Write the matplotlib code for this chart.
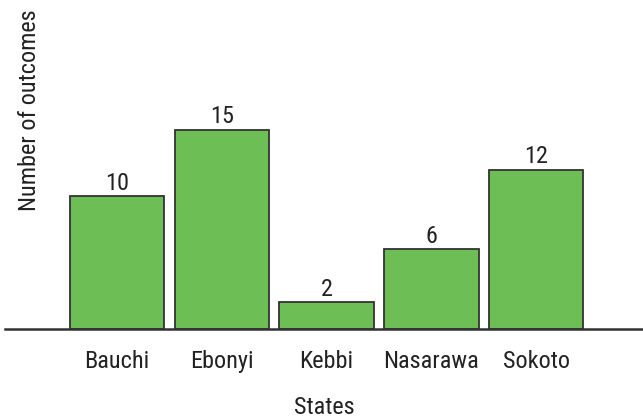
import matplotlib.pyplot as plt

states = ["Bauchi", "Ebonyi", "Kebbi", "Nasarawa", "Sokoto"]
outcomes = [10, 15, 2, 6, 12]

plt.rcParams["font.family"] = ["Roboto Condensed", "Liberation Sans Narrow", "Roboto", "DejaVu Sans"]

W, H = 643, 420
FS = 17.5
fig = plt.figure(figsize=(W / 100, H / 100), dpi=100)
ax = fig.add_axes([5 / W, (H - 329) / H, 1 - 5 / W, 329 / H])

x = list(range(len(states)))
bars = ax.bar(x, outcomes, width=0.9, color="#6dbe55", edgecolor="#333333", linewidth=1.3)
for xi, v in zip(x, outcomes):
    ax.text(xi, v + 0.15, str(v), ha="center", va="bottom", fontsize=FS, color="#222222")

ax.set_xlim(-1.07, 5.02)
ax.set_ylim(0, 24.83)
ax.set_xticks(x)
ax.set_xticklabels(states, fontsize=FS, color="#222222")
ax.tick_params(axis="x", length=0, pad=15)
ax.set_yticks([])
for s in ["top", "right", "left"]:
    ax.spines[s].set_visible(False)
ax.spines["bottom"].set_color("#333333")
ax.spines["bottom"].set_linewidth(1.8)

fig.text(324 / W, 1 - 408 / H, "States", ha="center", va="center", fontsize=FS, color="#222222")
fig.text(30 / W, 1 - 110 / H, "Number of outcomes", ha="center", va="center",
         rotation=90, fontsize=FS, color="#222222")

fig.savefig("out.png", dpi=100)
